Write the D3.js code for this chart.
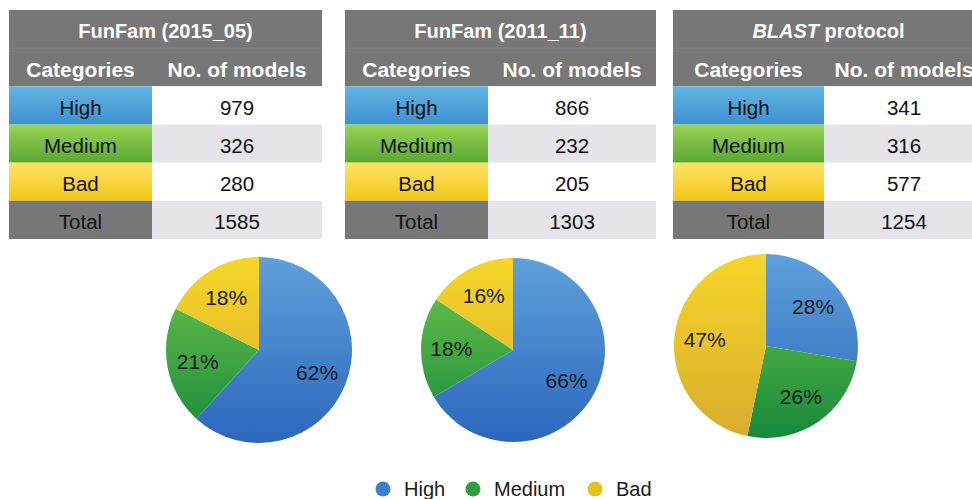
<!DOCTYPE html>
<html>
<head>
<meta charset="utf-8">
<script src="https://cdn.jsdelivr.net/npm/d3@7"></script>
<style>
  body { margin: 0; background: #fff; }
  svg { display: block; font-family: "Liberation Sans", Arial, Helvetica, sans-serif; }
</style>
</head>
<body>
<script>
// ----- DATA -----
const categories = ["High", "Medium", "Bad"];
const panelTitles = ["FunFam (2015_05)", "FunFam (2011_11)", "BLAST protocol"];
const highCounts = [979, 866, 341];
const mediumCounts = [326, 232, 316];
const badCounts = [280, 205, 577];
const totalCounts = [1585, 1303, 1254];
const pctLabels = [["62%", "21%", "18%"], ["66%", "18%", "16%"], ["28%", "26%", "47%"]];
const headerLabels = ["Categories", "No. of models"];

const w = 972, h = 499;

// layout of each panel (table + pie)
const panels = [
  {x0: 9, split: 152, x1: 322, cx: 259, cy: 350, r: 93},
  {x0: 345, split: 488, x1: 656, cx: 513, cy: 350, r: 92},
  {x0: 673, split: 824, x1: 984, cx: 766, cy: 346, r: 92}
];

const gray = "#777777";
const lightRow = "#e4e4e9";

const svg = d3.select("body").append("svg")
  .attr("width", w).attr("height", h);

const defs = svg.append("defs");

// gradients for table cells and pie slices
const cellGrad = {High: ["#62b3e4", "#3e92cd"], Medium: ["#9ad357", "#5aa832"], Bad: ["#fde465", "#f2c619"]};
const pieGrad = {High: ["#5fa0da", "#2c67bd"], Medium: ["#72c64c", "#17893b"], Bad: ["#f6d628", "#d7ac2d"]};

function addGrad(id, c) {
  const g = defs.append("linearGradient").attr("id", id)
    .attr("x1", 0).attr("y1", 0).attr("x2", 0).attr("y2", 1);
  g.append("stop").attr("offset", "0%").attr("stop-color", c[0]);
  g.append("stop").attr("offset", "100%").attr("stop-color", c[1]);
}
categories.forEach(c => { addGrad("cell-" + c, cellGrad[c]); });
panels.forEach((p, i) => {
  categories.forEach(c => {
    // userSpace gradient so the whole pie shades top -> bottom
    const g = defs.append("linearGradient").attr("id", "pie-" + i + "-" + c)
      .attr("gradientUnits", "userSpaceOnUse")
      .attr("x1", 0).attr("y1", -p.r).attr("x2", 0).attr("y2", p.r);
    g.append("stop").attr("offset", "0%").attr("stop-color", pieGrad[c][0]);
    g.append("stop").attr("offset", "100%").attr("stop-color", pieGrad[c][1]);
  });
});

// ----- SCALES -----
const rowKeys = ["title", "header", "High", "Medium", "Bad", "Total"];
const yRow = d3.scaleBand().domain(rowKeys).range([10, 239]).paddingInner(0);

const colors = d3.scaleOrdinal().domain(categories).range(["#3c7fcf", "#2e9e3e", "#e6c21e"]);

const pie = d3.pie().sort(null).value(d => d.value);

panels.forEach((p, i) => {
  const counts = [highCounts[i], mediumCounts[i], badCounts[i]];
  const g = svg.append("g");

  // ----- TABLE -----
  g.append("rect").attr("x", p.x0).attr("y", yRow("title"))
    .attr("width", p.x1 - p.x0).attr("height", yRow.bandwidth() * 2).attr("fill", gray);
  g.append("line").attr("x1", p.x0).attr("x2", p.x1)
    .attr("y1", yRow("header")).attr("y2", yRow("header"))
    .attr("stroke", "#858585").attr("stroke-width", 1);

  const title = g.append("text")
    .attr("x", (p.x0 + p.x1) / 2).attr("y", yRow("title") + yRow.bandwidth() / 2)
    .attr("dy", "0.45em").attr("text-anchor", "middle")
    .attr("fill", "#fff").attr("font-weight", "bold").attr("font-size", 20);
  if (i === 2) {
    title.append("tspan").attr("font-style", "italic").text("BLAST");
    title.append("tspan").text(" protocol");
  } else {
    title.text(panelTitles[i]);
  }

  headerLabels.forEach((t, j) => {
    const cx = j === 0 ? (p.x0 + p.split) / 2 : (p.split + p.x1) / 2;
    g.append("text").attr("x", cx).attr("y", yRow("header") + yRow.bandwidth() / 2)
      .attr("dy", "0.45em").attr("text-anchor", "middle")
      .attr("fill", "#fff").attr("font-weight", "bold").attr("font-size", 21)
      .text(t);
  });

  const rows = categories.map((c, k) => ({key: c, label: c, value: counts[k]}))
    .concat([{key: "Total", label: "Total", value: totalCounts[i]}]);

  rows.forEach((r, k) => {
    const y = yRow(r.key);
    g.append("rect").attr("x", p.x0).attr("y", y)
      .attr("width", p.split - p.x0).attr("height", yRow.bandwidth())
      .attr("fill", r.key === "Total" ? gray : "url(#cell-" + r.key + ")");
    g.append("rect").attr("x", p.split).attr("y", y)
      .attr("width", p.x1 - p.split).attr("height", yRow.bandwidth())
      .attr("fill", k % 2 === 0 ? "#ffffff" : lightRow);
    g.append("text").attr("x", (p.x0 + p.split) / 2).attr("y", y + yRow.bandwidth() / 2)
      .attr("dy", "0.45em").attr("text-anchor", "middle")
      .attr("fill", "#111").attr("font-size", 20.5).text(r.label);
    g.append("text").attr("x", (p.split + p.x1) / 2).attr("y", y + yRow.bandwidth() / 2)
      .attr("dy", "0.45em").attr("text-anchor", "middle")
      .attr("fill", "#111").attr("font-size", 20.5).text(r.value);
  });

  // ----- PIE -----
  const arcs = pie(categories.map((c, k) => ({key: c, value: counts[k], label: pctLabels[i][k]})));
  const arc = d3.arc().innerRadius(0).outerRadius(p.r);
  const labelArc = d3.arc().innerRadius(p.r * 0.67).outerRadius(p.r * 0.67);

  const pg = g.append("g").attr("transform", "translate(" + p.cx + "," + p.cy + ")");
  pg.selectAll("path").data(arcs).enter().append("path")
    .attr("d", arc)
    .attr("fill", d => "url(#pie-" + i + "-" + d.data.key + ")");
  pg.selectAll("text").data(arcs).enter().append("text")
    .attr("transform", d => "translate(" + labelArc.centroid(d) + ")")
    .attr("dy", "0.36em").attr("text-anchor", "middle")
    .attr("fill", "#1a1a1a").attr("font-size", 21)
    .text(d => d.data.label);
});

// ----- LEGEND -----
const legendX = d3.scaleOrdinal().domain(categories).range([383, 473, 595]);
const legend = svg.append("g").attr("id", "legend");
categories.forEach(c => {
  legend.append("circle").attr("cx", legendX(c)).attr("cy", 489).attr("r", 7.5)
    .attr("fill", colors(c));
  legend.append("text").attr("x", legendX(c) + 21).attr("y", 489)
    .attr("dy", "0.36em").attr("font-size", 20).attr("fill", "#1a1a1a").text(c);
});
</script>
</body>
</html>
